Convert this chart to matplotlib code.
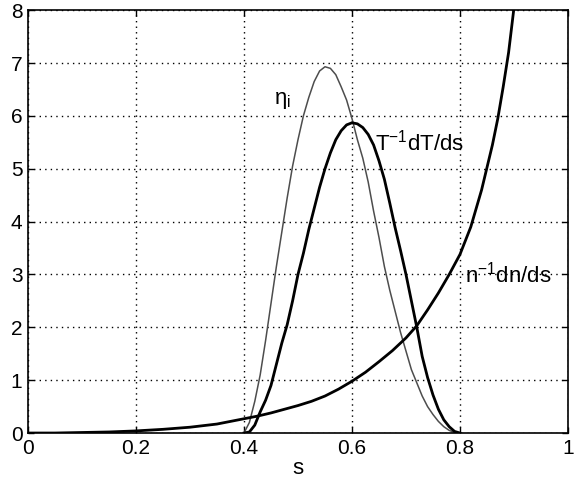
import matplotlib
matplotlib.use('Agg')
import matplotlib.pyplot as plt

# Values
s_peak = [0.40, 0.41, 0.42, 0.43, 0.44, 0.45, 0.46, 0.47, 0.48, 0.49,
          0.50, 0.51, 0.52, 0.53, 0.54, 0.55, 0.56, 0.57, 0.58, 0.59,
          0.60, 0.61, 0.62, 0.63, 0.64, 0.65, 0.66, 0.67, 0.68, 0.69,
          0.70, 0.71, 0.72, 0.73, 0.74, 0.75, 0.76, 0.77, 0.78, 0.79, 0.80]
eta_i = [0.0, 0.2, 0.6, 1.1, 1.75, 2.45, 3.15, 3.8, 4.45, 5.05,
         5.55, 6.0, 6.35, 6.65, 6.85, 6.93, 6.9, 6.78, 6.55, 6.3,
         5.95, 5.55, 5.2, 4.75, 4.2, 3.7, 3.15, 2.7, 2.3, 1.9,
         1.55, 1.2, 0.95, 0.7, 0.5, 0.35, 0.22, 0.12, 0.05, 0.01, 0.0]
dlnT = [0.0, 0.02, 0.15, 0.4, 0.62, 0.9, 1.3, 1.7, 2.05, 2.5,
        3.0, 3.4, 3.85, 4.25, 4.65, 5.0, 5.3, 5.55, 5.72, 5.83,
        5.87, 5.85, 5.78, 5.65, 5.45, 5.15, 4.8, 4.35, 3.88, 3.45,
        3.0, 2.5, 2.0, 1.45, 1.05, 0.72, 0.45, 0.25, 0.12, 0.03, 0.0]

s_n = [0.0, 0.05, 0.1, 0.15, 0.2, 0.25, 0.3, 0.35, 0.4, 0.425, 0.45, 0.475,
       0.5, 0.525, 0.55, 0.575, 0.6, 0.625, 0.65, 0.675, 0.7, 0.72, 0.74,
       0.76, 0.78, 0.80, 0.82, 0.84, 0.86, 0.87, 0.88, 0.89, 0.90, 0.91]
dlnn = [0.0, 0.0, 0.01, 0.02, 0.04, 0.07, 0.11, 0.17, 0.27, 0.32, 0.38, 0.45,
        0.52, 0.6, 0.7, 0.83, 0.98, 1.15, 1.35, 1.56, 1.8, 2.03, 2.33,
        2.65, 3.0, 3.38, 3.9, 4.6, 5.45, 5.95, 6.55, 7.2, 8.05, 8.9]

x_ticks = [0, 0.2, 0.4, 0.6, 0.8, 1]
x_ticklabels = ['0', '0.2', '0.4', '0.6', '0.8', '1']
y_ticks = [0, 1, 2, 3, 4, 5, 6, 7, 8]

plt.rcParams['font.family'] = ['Liberation Sans', 'DejaVu Sans']
plt.rcParams['mathtext.fontset'] = 'custom'
plt.rcParams['mathtext.rm'] = 'Liberation Sans'
plt.rcParams['mathtext.default'] = 'regular'

fig = plt.figure(figsize=(5.78, 4.86), dpi=100)
ax = fig.add_axes([0.0484, 0.109, 0.9343, 0.870])

ax.plot(s_peak, eta_i, color='0.3', lw=1.1)
ax.plot(s_peak, dlnT, color='black', lw=2.0)
ax.plot(s_n, dlnn, color='black', lw=2.0)

ax.set_xlim(0, 1)
ax.set_ylim(0, 8)
ax.set_xticks(x_ticks)
ax.set_xticklabels(x_ticklabels)
ax.set_yticks(y_ticks)
ax.tick_params(direction='in', top=True, right=True, labelsize=15, length=4, width=1, pad=4)
ax.grid(True, linestyle=(0, (1, 3)), color='black', linewidth=1.0)
for sp in ax.spines.values():
    sp.set_linewidth(1.2)

ax.set_xlabel('s', fontsize=16, labelpad=0)

ax.text(0.455, 6.3, r'η$_i$', fontsize=16, va='center', ha='left')
ax.text(0.643, 5.5, r'T$^{-1}$dT/ds', fontsize=16, va='center', ha='left')
ax.text(0.809, 3.0, r'n$^{-1}$dn/ds', fontsize=16, va='center', ha='left')

fig.savefig('out.png', dpi=100)
